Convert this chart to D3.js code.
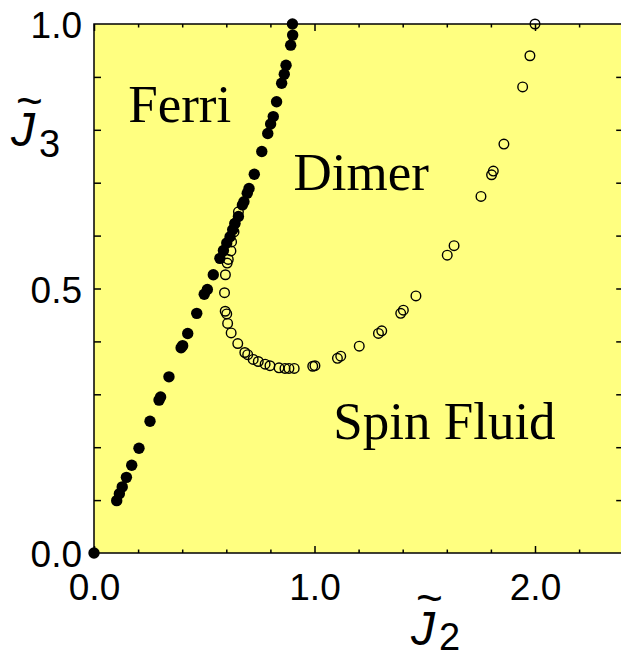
<!DOCTYPE html>
<html>
<head>
<meta charset="utf-8">
<script src="https://cdn.jsdelivr.net/npm/d3@7/dist/d3.min.js"></script>
<style>
  html, body { margin: 0; padding: 0; background: #fff; }
  svg { display: block; }
</style>
</head>
<body>
<svg id="chart" width="621" height="659"></svg>
<script>
// Ferrimagnetic–dimer boundary (filled markers), J2 / J3 pairs
const ferriJ2 = [0.000, 0.103, 0.115, 0.128, 0.147, 0.171, 0.204, 0.254, 0.295, 0.302,
                 0.340, 0.395, 0.402, 0.425, 0.466, 0.500, 0.514, 0.541, 0.571, 0.587,
                 0.602, 0.617, 0.629, 0.639, 0.655, 0.673, 0.680, 0.695, 0.703, 0.727,
                 0.761, 0.788, 0.801, 0.813, 0.828, 0.851, 0.863, 0.871, 0.892, 0.901, 0.900];
const ferriJ3 = [0.000, 0.099, 0.112, 0.125, 0.143, 0.166, 0.198, 0.249, 0.289, 0.295,
                 0.333, 0.388, 0.392, 0.415, 0.453, 0.489, 0.498, 0.526, 0.557, 0.572,
                 0.586, 0.598, 0.611, 0.623, 0.636, 0.658, 0.664, 0.680, 0.689, 0.716,
                 0.759, 0.793, 0.811, 0.825, 0.853, 0.888, 0.905, 0.922, 0.960, 0.979, 1.000];

// Dimer / spin-fluid boundary (open markers)
const fluidJ2 = [0.655, 0.639, 0.635, 0.624, 0.621, 0.609, 0.604, 0.596, 0.592, 0.595,
                 0.602, 0.606, 0.622, 0.652, 0.684, 0.697, 0.722, 0.745, 0.776, 0.798,
                 0.839, 0.866, 0.884, 0.908, 0.992, 1.002, 1.104, 1.119, 1.203, 1.290,
                 1.305, 1.391, 1.403, 1.460, 1.602, 1.633, 1.755, 1.803, 1.811, 1.859,
                 1.944, 1.977, 2.000];
const fluidJ3 = [0.645, 0.623, 0.607, 0.588, 0.571, 0.555, 0.548, 0.526, 0.492, 0.457,
                 0.452, 0.434, 0.416, 0.396, 0.379, 0.375, 0.366, 0.362, 0.357, 0.354,
                 0.350, 0.349, 0.349, 0.349, 0.353, 0.354, 0.368, 0.372, 0.391, 0.415,
                 0.420, 0.453, 0.459, 0.486, 0.563, 0.581, 0.674, 0.715, 0.722, 0.773,
                 0.881, 0.940, 1.000];

// Axis ticks
const xMajorTicks = [0, 1, 2];
const xMinorTicks = [0.2, 0.4, 0.6, 0.8, 1.2, 1.4, 1.6, 1.8, 2.2];
const yLabelTicks = [0, 0.5, 1];
const yAllTicks = [0.1, 0.2, 0.3, 0.4, 0.5, 0.6, 0.7, 0.8, 0.9];

// Phase labels
const phaseNames = ["Ferri", "Dimer", "Spin Fluid"];
const phaseJ2 = [0.155, 0.905, 1.085];
const phaseJ3 = [0.814, 0.686, 0.216];

(function draw() {
  const svg = d3.select("#chart");
  const pl = 94, pr = 623.2, pt = 24, pb = 553;

  const x = d3.scaleLinear().domain([0, 2.4]).range([pl, pr]);
  const y = d3.scaleLinear().domain([0, 1]).range([pb, pt]);

  const sansFont = "'Liberation Sans', Arial, Helvetica, sans-serif";
  const serifFont = "'Liberation Serif', 'Times New Roman', Times, serif";

  // plot background
  svg.append("rect")
    .attr("x", pl).attr("y", pt)
    .attr("width", pr - pl).attr("height", pb - pt)
    .attr("fill", "#ffff80");

  const fmt = d3.format(".1f");

  function styleAxis(g) {
    g.select(".domain").remove();
    g.selectAll(".tick line").attr("stroke", "#000").attr("stroke-width", 1.5);
    g.selectAll(".tick text")
      .attr("fill", "#000")
      .style("font-family", sansFont)
      .style("font-size", "37px");
  }

  // bottom axis: major ticks with labels, short minor ticks
  svg.append("g").attr("transform", `translate(0,${pb})`)
    .call(d3.axisBottom(x).tickValues(xMajorTicks).tickFormat(fmt)
          .tickSizeInner(-7).tickSizeOuter(0).tickPadding(21))
    .call(styleAxis);
  svg.append("g").attr("transform", `translate(0,${pb})`)
    .call(d3.axisBottom(x).tickValues(xMinorTicks).tickFormat("")
          .tickSizeInner(-3.5).tickSizeOuter(0))
    .call(styleAxis);

  // top axis mirrors the bottom one, unlabeled
  svg.append("g").attr("transform", `translate(0,${pt})`)
    .call(d3.axisTop(x).tickValues(xMajorTicks).tickFormat("")
          .tickSizeInner(-7).tickSizeOuter(0))
    .call(styleAxis);
  svg.append("g").attr("transform", `translate(0,${pt})`)
    .call(d3.axisTop(x).tickValues(xMinorTicks).tickFormat("")
          .tickSizeInner(-3.5).tickSizeOuter(0))
    .call(styleAxis);

  // left axis
  svg.append("g").attr("transform", `translate(${pl},0)`)
    .call(d3.axisLeft(y).tickValues(yAllTicks).tickFormat("")
          .tickSizeInner(-7).tickSizeOuter(0))
    .call(styleAxis);
  svg.append("g").attr("transform", `translate(${pl},0)`)
    .call(d3.axisLeft(y).tickValues(yLabelTicks).tickFormat(fmt)
          .tickSizeInner(0).tickSizeOuter(0).tickPadding(12))
    .call(styleAxis)
    .call(g => g.selectAll(".tick text").attr("dy", "0.37em"));

  // right axis
  svg.append("g").attr("transform", `translate(${pr},0)`)
    .call(d3.axisRight(y).tickValues(yAllTicks).tickFormat("")
          .tickSizeInner(-7).tickSizeOuter(0))
    .call(styleAxis);

  // frame
  svg.append("rect")
    .attr("x", pl).attr("y", pt)
    .attr("width", pr - pl).attr("height", pb - pt)
    .attr("fill", "none").attr("stroke", "#000").attr("stroke-width", 1.5);

  // phase labels
  svg.append("g").selectAll("text")
    .data(phaseNames)
    .join("text")
    .attr("x", (d, i) => x(phaseJ2[i]))
    .attr("y", (d, i) => y(phaseJ3[i]))
    .attr("fill", "#000")
    .style("font-family", serifFont)
    .style("font-size", "53px")
    .text(d => d);

  // filled markers
  svg.append("g").selectAll("circle")
    .data(d3.range(ferriJ2.length))
    .join("circle")
    .attr("cx", i => x(ferriJ2[i]))
    .attr("cy", i => y(ferriJ3[i]))
    .attr("r", 5.7)
    .attr("fill", "#000");

  // open markers
  svg.append("g").selectAll("circle")
    .data(d3.range(fluidJ2.length))
    .join("circle")
    .attr("cx", i => x(fluidJ2[i]))
    .attr("cy", i => y(fluidJ3[i]))
    .attr("r", 4.8)
    .attr("fill", "none")
    .attr("stroke", "#000")
    .attr("stroke-width", 1.4);

  // axis titles: italic J, tilde accent and subscript in one text element
  function axisTitle(x0, base, sub, subX, subBase, tildeX, tildeBase) {
    const t = svg.append("text").attr("fill", "#000").style("font-family", sansFont);
    t.append("tspan").attr("x", x0).attr("y", base)
      .style("font-size", "48px").style("font-style", "italic").text("J");
    t.append("tspan").attr("x", tildeX).attr("y", tildeBase)
      .style("font-size", "46px").text("~");
    t.append("tspan").attr("x", subX).attr("y", subBase)
      .style("font-size", "38px").text(sub);
  }
  axisTitle(11, 146, "3", 39, 157, 16, 117);
  axisTitle(411, 645, "2", 439, 650, 416, 614);
})();
</script>
</body>
</html>
